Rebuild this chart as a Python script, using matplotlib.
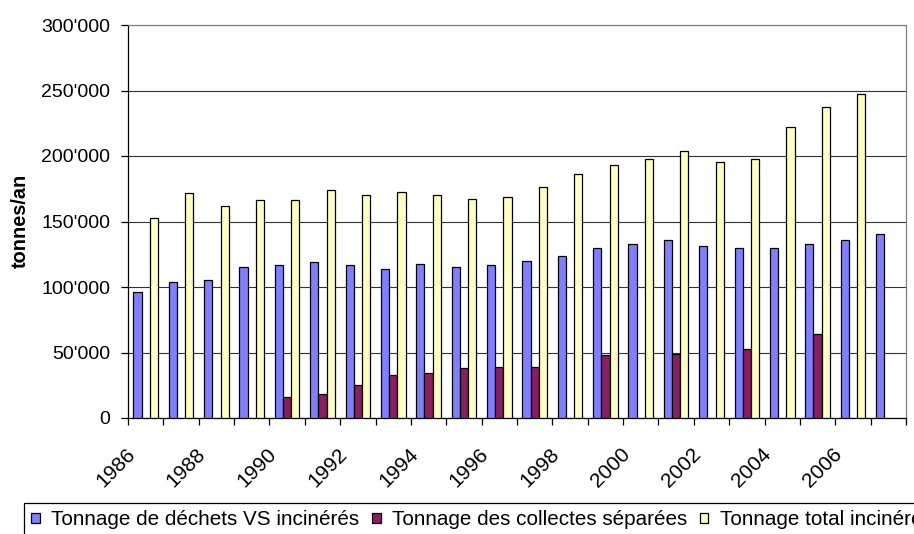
import numpy as np
import matplotlib
matplotlib.use("Agg")
import matplotlib.pyplot as plt
from matplotlib.patches import Patch
from matplotlib.ticker import FixedLocator, FuncFormatter
from matplotlib.transforms import ScaledTranslation

plt.rcParams['font.family'] = ['Liberation Sans', 'DejaVu Sans']

years = list(range(1986, 2008))

dechets_vs = [96500, 104000, 105500, 115500, 116500, 119000, 116500, 114000,
              117500, 115500, 116500, 120000, 123500, 130000, 132500, 136000,
              131000, 130000, 130000, 132500, 136000, 140500]

collectes = [np.nan, np.nan, np.nan, np.nan, 16000, 18500, 25500, 33000,
             34500, 38000, 39000, 39000, np.nan, 48000, np.nan, 49000,
             np.nan, 52500, np.nan, 64000, np.nan, np.nan]

total = [153000, 171500, 161500, 166500, 166500, 174000, 170500, 172500,
         170500, 167500, 169000, 176500, 186500, 193500, 198000, 203500,
         195500, 198000, 222000, 237500, 247500, np.nan]

series_labels = ["Tonnage de déchets VS incinérés",
                 "Tonnage des collectes séparées",
                 "Tonnage total incinéré"]
colors = ["#8080FF", "#852062", "#FFFFC4"]

fig = plt.figure(figsize=(9.14, 5.34), dpi=100)
ax = fig.add_axes([128 / 914, 1 - 418 / 534, 778 / 914, 393 / 534])

n = len(years)
centers = np.arange(n) + 0.5
w = 0.232
for k, vals in enumerate([dechets_vs, collectes, total]):
    vals = np.asarray(vals, dtype=float)
    ok = ~np.isnan(vals)
    ax.bar(centers[ok] + (k - 1) * w, vals[ok], width=w, color=colors[k],
           edgecolor="black", linewidth=0.9, zorder=3)

ax.set_xlim(0, n)
ax.set_ylim(0, 300000)

# y axis
ax.yaxis.set_major_locator(FixedLocator(np.arange(0, 300001, 50000)))
ax.yaxis.set_major_formatter(FuncFormatter(lambda v, p: f"{int(v):,}".replace(",", "'")))
ax.tick_params(axis='y', direction='out', length=4.8, width=0.9, pad=8,
               labelsize=14, colors='black')
ax.grid(axis='y', color='#333333', linewidth=0.8, zorder=0)
ax.set_axisbelow(True)

# x axis: ticks at category boundaries, labels every other year
ax.xaxis.set_major_locator(FixedLocator(np.arange(0, n + 1)))
ax.xaxis.set_major_formatter(FuncFormatter(lambda v, p: ""))
ax.tick_params(axis='x', which='major', direction='out', length=4.8, width=0.9)
label_pos = [c for c, y in zip(centers, years) if y % 2 == 0]
label_txt = [str(y) for y in years if y % 2 == 0]
ax.xaxis.set_minor_locator(FixedLocator(label_pos))
ax.set_xticklabels(label_txt, minor=True)
ax.tick_params(axis='x', which='minor', length=0, pad=19, labelsize=15)
shift = ScaledTranslation(-7 / 100, 0, fig.dpi_scale_trans)
for lab in ax.xaxis.get_minorticklabels():
    lab.set_rotation(45)
    lab.set_ha('right')
    lab.set_va('top')
    lab.set_transform(lab.get_transform() + shift)

for side in ['left', 'bottom']:
    ax.spines[side].set_color('black')
    ax.spines[side].set_linewidth(0.9)
for side in ['top', 'right']:
    ax.spines[side].set_color('#808080')
    ax.spines[side].set_linewidth(0.9)

fig.text(20 / 914, 1 - 221 / 534, "tonnes/an", rotation=90, ha='center',
         va='center', fontsize=14.3, fontweight='bold')

handles = [Patch(facecolor=c, edgecolor='black', linewidth=0.9) for c in colors]
leg = fig.legend(handles, series_labels, loc='upper left',
                 bbox_to_anchor=(24 / 914, 1 - 503 / 534), ncol=3,
                 fontsize=14.9, handlelength=0.42, handleheight=0.36,
                 handletextpad=0.55, columnspacing=0.6, borderpad=0.35,
                 borderaxespad=0, fancybox=False, frameon=True)
leg.get_frame().set_edgecolor('black')
leg.get_frame().set_linewidth(0.9)
leg.get_frame().set_alpha(1)

fig.savefig("out.png", dpi=100)
